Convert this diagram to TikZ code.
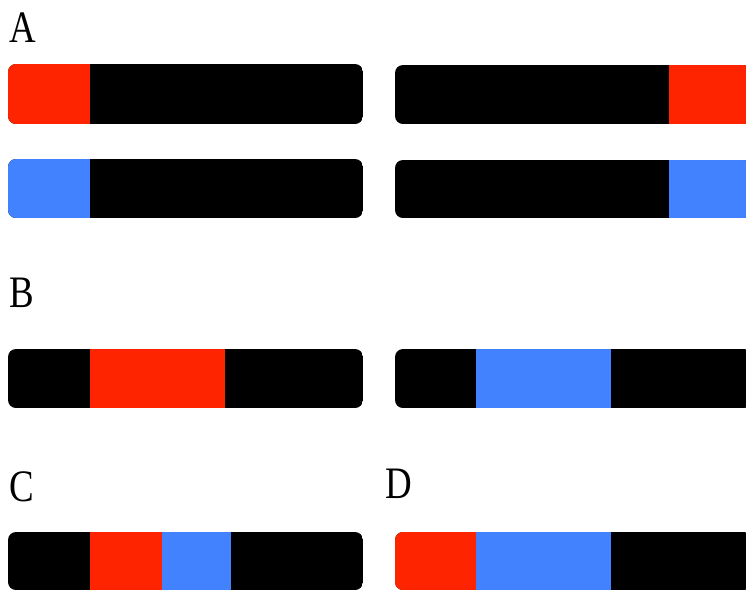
\documentclass[tikz,border=0pt]{standalone}
\usepackage{fontspec}
\setmainfont{Liberation Serif}
\definecolor{segred}{RGB}{255,36,0}
\definecolor{segblue}{RGB}{66,130,255}
\tikzset{
  panellabel/.style={anchor=base west, inner sep=0pt, font=\fontsize{45}{45}\selectfont, xscale=0.82},
}
% \chrbar{x1}{y1}{x2}{y2}{segment fills}
\newcommand{\chrbar}[5]{%
  \begin{scope}
    \clip[rounded corners=8pt] (#1,#2) rectangle (#3,#4);
    \fill[black] (#1,#2) rectangle (#3,#4);
    #5
  \end{scope}}
\begin{document}
\begin{tikzpicture}[x=1pt,y=-1pt]
\useasboundingbox (0,0) rectangle (746,590);
\fill[white] (0,0) rectangle (746,590);
% labels
\node[panellabel] (lA) at (9,42) {A};
\node[panellabel] (lB) at (9,307) {B};
\node[panellabel] (lC) at (9,501) {C};
\node[panellabel] (lD) at (385,498) {D};
% A
\chrbar{8}{64}{363}{124}{\fill[segred] (8,64) rectangle (90,124);}
\chrbar{8}{159}{363}{218}{\fill[segblue] (8,159) rectangle (90,218);}
\chrbar{395}{65}{752}{124}{\fill[segred] (669,65) rectangle (752,124);}
\chrbar{395}{160}{752}{218}{\fill[segblue] (669,160) rectangle (752,218);}
% B
\chrbar{8}{349}{363}{408}{\fill[segred] (90,349) rectangle (225,408);}
\chrbar{395}{349}{752}{408}{\fill[segblue] (476,349) rectangle (611,408);}
% C
\chrbar{8}{532}{363}{590}{\fill[segred] (90,532) rectangle (162,590); \fill[segblue] (162,532) rectangle (231,590);}
% D
\chrbar{395}{532}{752}{590}{\fill[segred] (395,532) rectangle (476,590); \fill[segblue] (476,532) rectangle (611,590);}
\end{tikzpicture}
\end{document}
